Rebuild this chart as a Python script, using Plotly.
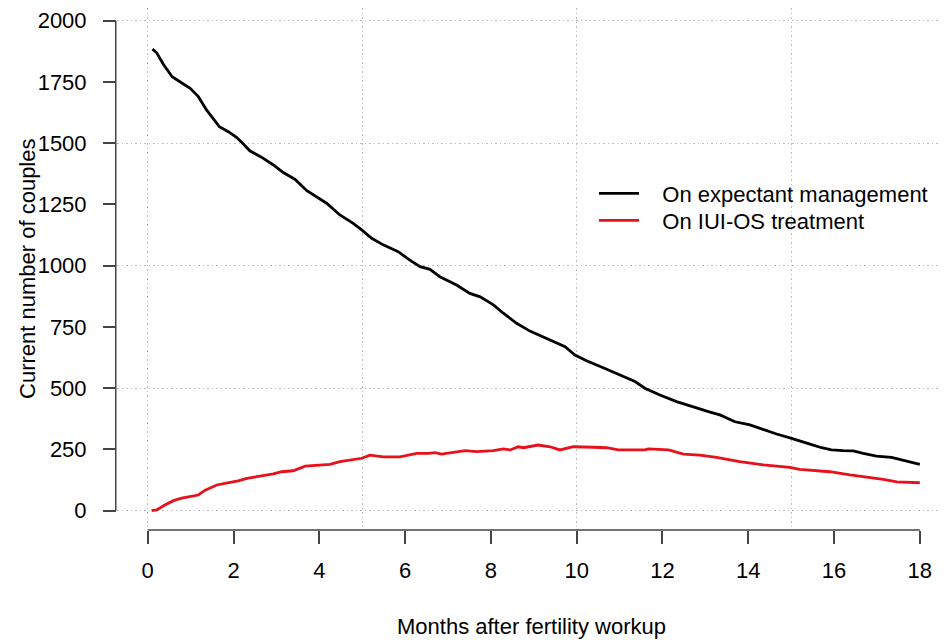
import plotly.graph_objects as go

# ---- data ----
months_expectant = [0.11, 0.21, 0.36, 0.57, 0.75, 0.99, 1.18, 1.375, 1.55, 1.67, 1.88, 2.07, 2.23, 2.38,
                    2.66, 2.93, 3.16, 3.43, 3.71, 4.17, 4.48, 4.79, 4.99, 5.22, 5.49, 5.84, 6.11, 6.35,
                    6.58, 6.81, 7.2, 7.51, 7.75, 8.06, 8.29, 8.6, 8.91, 9.22, 9.45, 9.73, 9.96, 10.23,
                    10.7, 11.01, 11.36, 11.59, 11.94, 12.33, 12.72, 13.11, 13.34, 13.69, 14.04, 14.27,
                    14.66, 15.01, 15.2, 15.44, 15.71, 15.94, 16.21, 16.45, 16.68, 16.99, 17.34, 17.58, 18.0]
couples_expectant = [1884, 1869, 1823, 1771, 1751, 1724, 1690, 1635, 1595, 1567, 1547, 1524, 1497, 1469,
                     1442, 1411, 1380, 1353, 1306, 1255, 1207, 1173, 1146, 1112, 1085, 1057, 1023, 996,
                     985, 955, 921, 887, 873, 840, 806, 765, 733, 708, 690, 669, 635, 612,
                     577, 554, 527, 500, 472, 445, 422, 402, 391, 363, 350, 336,
                     313, 295, 286, 272, 257, 248, 245, 244, 234, 223, 218, 207, 189]

months_iui = [0.09, 0.21, 0.40, 0.6, 0.79, 0.99, 1.18, 1.34, 1.61, 1.92, 2.11, 2.31, 2.69, 2.93, 3.12,
              3.39, 3.67, 3.94, 4.25, 4.48, 4.72, 4.99, 5.18, 5.49, 5.88, 6.27, 6.54, 6.7, 6.85, 7.12,
              7.4, 7.67, 8.06, 8.29, 8.45, 8.64, 8.76, 9.1, 9.38, 9.61, 9.92, 10.39, 10.7, 10.97, 11.59,
              11.67, 12.14, 12.49, 12.87, 13.26, 13.8, 14.35, 14.97, 15.2, 15.9, 16.37, 16.68, 17.15,
              17.46, 18.0]
couples_iui = [0, 3, 23, 41, 51, 57, 64, 84, 105, 116, 122, 132, 142, 150, 159,
               163, 182, 184, 189, 200, 207, 214, 227, 220, 220, 234, 234, 237, 231, 237,
               245, 241, 245, 252, 248, 261, 257, 268, 261, 248, 261, 259, 257, 248, 248,
               252, 248, 231, 227, 218, 200, 187, 177, 169, 159, 146, 139, 128,
               118, 114]

series_names = ["On expectant management", "On IUI-OS treatment"]
x_ticks = [0, 2, 4, 6, 8, 10, 12, 14, 16, 18]
y_ticks = [0, 250, 500, 750, 1000, 1250, 1500, 1750, 2000]
x_grid = [0, 5, 10, 15]
y_grid = [0, 500, 1000, 1500, 2000]
x_title = "Months after fertility workup"
y_title = "Current number of couples"

# ---- styling ----
FONT = "Liberation Sans, Arial, sans-serif"
FS = 22
AXC = "#444444"
GRIDC = "#bcbcbc"
GRIDDASH = "1.5px,3px"
LEG_PAD = "\u00a0\u00a0\u00a0"   # visual gap between legend line and label
x_range = [-0.716, 18.61]
y_range = [-78.8, 2051.8]

fig = go.Figure()
fig.add_trace(go.Scatter(x=months_expectant, y=couples_expectant, mode="lines",
                         name=LEG_PAD + series_names[0], legend="legend",
                         line=dict(color="black", width=2.8)))
fig.add_trace(go.Scatter(x=months_iui, y=couples_iui, mode="lines",
                         name=LEG_PAD + series_names[1], legend="legend2",
                         line=dict(color="#e8101a", width=2.8)))
# dummy trace to carry the overlay grid axes
fig.add_trace(go.Scatter(x=[None], y=[None], xaxis="x2", yaxis="y2", showlegend=False,
                         hoverinfo="skip"))

legend_style = dict(xanchor="left", yanchor="top", bgcolor="rgba(0,0,0,0)",
                    font=dict(size=FS, family=FONT, color="black"), itemwidth=40)

fig.update_layout(
    width=938, height=632,
    margin=dict(l=109, r=0, t=0, b=110),
    paper_bgcolor="white", plot_bgcolor="white",
    font=dict(family=FONT, size=FS, color="black"),
    showlegend=True,
    legend=dict(x=0.5754, y=0.6849, **legend_style),
    legend2=dict(x=0.5754, y=0.6331, **legend_style),
    xaxis=dict(range=x_range, tickvals=x_ticks, ticktext=[str(v) for v in x_ticks],
               showgrid=False, zeroline=False, showline=False, automargin=False,
               ticks="outside", ticklen=13, tickwidth=1.5, tickcolor=AXC,
               ticklabelstandoff=8,
               title=dict(text=x_title, standoff=36, font=dict(size=FS))),
    yaxis=dict(range=y_range, tickvals=y_ticks, ticktext=[str(v) for v in y_ticks],
               showgrid=False, zeroline=False, showline=False, automargin=False,
               ticks="outside", ticklen=13, tickwidth=1.5, tickcolor=AXC,
               ticklabelstandoff=12),
    xaxis2=dict(range=x_range, overlaying="x", anchor="y2", tickvals=x_grid,
                showgrid=True, gridcolor=GRIDC, griddash=GRIDDASH, gridwidth=1.3,
                showticklabels=False, ticks="", zeroline=False, showline=False,
                automargin=False),
    yaxis2=dict(range=y_range, overlaying="y", anchor="x2", tickvals=y_grid,
                showgrid=True, gridcolor=GRIDC, griddash=GRIDDASH, gridwidth=1.3,
                showticklabels=False, ticks="", zeroline=False, showline=False,
                automargin=False),
)

# y-axis title placed like R's ylab
fig.add_annotation(text=y_title, xref="paper", yref="paper", x=-0.1086, y=0.5,
                   xanchor="center", yanchor="middle", textangle=-90, showarrow=False,
                   font=dict(size=FS, family=FONT, color="black"))

# R-style axis spines spanning only the tick range
fig.add_shape(type="line", xref="paper", yref="y", x0=-0.0015, x1=-0.0015,
              y0=y_ticks[0], y1=y_ticks[-1], line=dict(color=AXC, width=1.5))
fig.add_shape(type="line", xref="x", yref="paper", x0=x_ticks[0], x1=x_ticks[-1],
              y0=0, y1=0, line=dict(color=AXC, width=1.5))

fig.write_html("out.html")
